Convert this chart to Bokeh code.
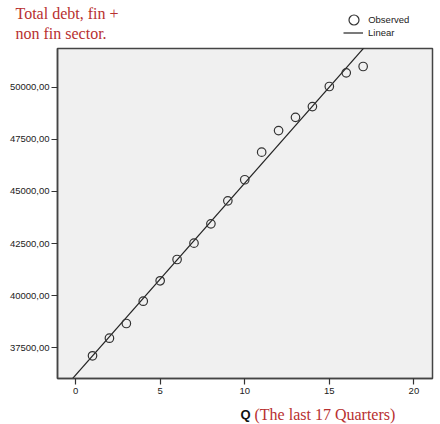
import numpy as np
from bokeh.plotting import figure
from bokeh.layouts import column
from bokeh.models import Range1d, FixedTicker, Label, Legend, LegendItem
from bokeh.embed import file_html
from bokeh.resources import INLINE

# Total debt (financial + non-financial sector), last 17 quarters
quarters = list(range(1, 18))
debt = [37116, 37960, 38666, 39735, 40714, 41735, 42520, 43445, 44548,
        45561, 46885, 47917, 48555, 49068, 50034, 50690, 50993]

x_ticks = [0, 5, 10, 15, 20]
y_ticks = [37500, 40000, 42500, 45000, 47500, 50000]
y_tick_labels = ["37500,00", "40000,00", "42500,00", "45000,00", "47500,00", "50000,00"]

title_lines = ["Total debt, fin +", "non fin sector."]
x_title_bold = "Q"
x_title_note = "(The last 17 Quarters)"
legend_labels = ["Observed", "Linear"]

RED = "#b83030"
INK = "#222222"
SERIF = "Liberation Serif"
SANS = "Liberation Sans"
W = 440


def strip(height):
    """A bare full-bleed canvas band; its data units are pixels from the top-left."""
    f = figure(width=W, height=height, output_backend="svg", toolbar_location=None,
               x_range=Range1d(0, W), y_range=Range1d(height, 0),
               min_border=0, x_axis_type=None, y_axis_type=None,
               frame_align=False)
    f.outline_line_color = None
    f.background_fill_color = "white"
    f.border_fill_color = "white"
    f.xgrid.visible = False
    f.ygrid.visible = False
    return f


def legend_box(item, loc, gw, gh, standoff):
    return Legend(items=[item], location=loc, orientation="vertical",
                  glyph_width=gw, glyph_height=gh, label_height=13,
                  label_standoff=standoff, spacing=0, padding=0, margin=0,
                  label_text_font=SANS, label_text_font_size="9.5px",
                  label_text_color=INK, border_line_color=None,
                  background_fill_alpha=0)


# least-squares linear fit
slope, intercept = np.polyfit(quarters, debt, 1)
x_lo, x_hi = -1.07, 21.1
fit_x = [x_lo, x_hi]
fit_y = [intercept + slope * v for v in fit_x]

# ---- main scatter plot ----
TOP_H, BOT_H = 46, 22
p = figure(width=W, height=424 - TOP_H - BOT_H, output_backend="svg",
           toolbar_location=None, frame_align=False,
           x_range=Range1d(x_lo, x_hi), y_range=Range1d(36027, 51856),
           min_border_left=57, min_border_right=8, min_border_top=2,
           min_border_bottom=24)
p.background_fill_color = "#f0f0f0"
p.border_fill_color = "white"
p.outline_line_color = "#444444"
p.outline_line_width = 1.5
p.xgrid.visible = False
p.ygrid.visible = False

line_r = p.line(fit_x, fit_y, line_color="#222222", line_width=1.2)
pts_r = p.scatter(quarters, debt, marker="circle", size=8.5, fill_color=None,
                  line_color="#333333", line_width=1.2)

for ax in (p.xaxis[0], p.yaxis[0]):
    ax.axis_line_color = "#444444"
    ax.axis_line_width = 1.5
    ax.major_tick_line_color = "#333333"
    ax.major_tick_line_width = 1.2
    ax.major_tick_out = 6
    ax.major_tick_in = 0
    ax.minor_tick_line_color = None
    ax.major_label_text_font = SANS
    ax.major_label_text_font_size = "9.5px"
    ax.major_label_text_color = INK

p.xaxis.ticker = FixedTicker(ticks=x_ticks)
p.xaxis.major_label_standoff = 3
p.yaxis.ticker = FixedTicker(ticks=y_ticks)
p.yaxis.major_label_overrides = {t: s for t, s in zip(y_ticks, y_tick_labels)}
p.yaxis.major_label_standoff = 2

# ---- top band: title and legend ----
top = strip(TOP_H)
for i, txt in enumerate(title_lines):
    top.add_layout(Label(x=15, y=13 + 19.5 * i, text=txt, text_font=SERIF,
                         text_font_size="16px", text_color=RED,
                         text_baseline="alphabetic"))

# legend swatches: same series and styling as the main plot, lying outside
# this band's visible range so only their legend glyphs show
sw_pts = top.scatter(x=quarters, y=debt, marker="circle", size=pts_r.glyph.size,
                     fill_color=None, line_color=pts_r.glyph.line_color,
                     line_width=pts_r.glyph.line_width)
sw_line = top.line(x=fit_x, y=fit_y, line_color=line_r.glyph.line_color,
                   line_width=line_r.glyph.line_width)
top.add_layout(legend_box(LegendItem(label=legend_labels[0], renderers=[sw_pts]),
                          (341.2, TOP_H - 31.5), 25, 25, 2), "center")
top.add_layout(legend_box(LegendItem(label=legend_labels[1], renderers=[sw_line]),
                          (343, TOP_H - 38.5), 20, 13, 5), "center")

# ---- bottom band: x-axis title ----
bot = strip(BOT_H)
bot.add_layout(Label(x=240, y=12, text=x_title_bold, text_font=SANS,
                     text_font_style="bold", text_font_size="13px",
                     text_color="#111111", text_baseline="alphabetic"))
bot.add_layout(Label(x=254, y=12, text=x_title_note, text_font=SERIF,
                     text_font_size="16px", text_color=RED,
                     text_baseline="alphabetic"))

layout = column(top, p, bot, spacing=0)
open("out.html", "w").write(file_html(layout, INLINE))
